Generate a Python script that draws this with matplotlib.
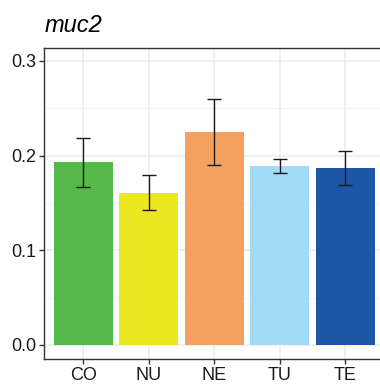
import matplotlib
matplotlib.use("Agg")
from matplotlib import pyplot as plt
from matplotlib.ticker import MultipleLocator

plt.rcParams["font.family"] = ["Liberation Sans", "DejaVu Sans"]

groups = ["CO", "NU", "NE", "TU", "TE"]
means = [0.193, 0.1605, 0.225, 0.189, 0.1866]
err_low = [0.167, 0.1426, 0.1898, 0.182, 0.1686]
err_high = [0.219, 0.1795, 0.2598, 0.1964, 0.2045]
colors = ["#54B948", "#EBE723", "#F5A05F", "#A2DBF6", "#1E56A6"]

fig = plt.figure(figsize=(3.8, 3.84), dpi=100)
ax = fig.add_axes([44 / 380, 25 / 384, 340.6 / 380, 311 / 384])

xs = list(range(1, len(groups) + 1))
yerr = [[m - lo for m, lo in zip(means, err_low)],
        [hi - m for m, hi in zip(means, err_high)]]

ax.bar(xs, means, width=0.9, color=colors, zorder=2)
ax.errorbar(xs, means, yerr=yerr, fmt="none", ecolor="#1a1a1a",
            elinewidth=1.0, capsize=4.7, capthick=1.0, zorder=3)

ax.set_xlim(0.4, 5.6)
ax.set_ylim(-0.0148, 0.3137)
ax.set_xticks(xs)
ax.set_xticklabels(groups)
ax.yaxis.set_minor_locator(MultipleLocator(0.05))
ax.set_yticks([0.0, 0.1, 0.2, 0.3])
ax.set_yticklabels(["0.0", "0.1", "0.2", "0.3"])

ax.grid(True, which="major", color="#EBEBEB", linewidth=1.1, zorder=0)
ax.grid(True, which="minor", axis="y", color="#F2F2F2", linewidth=0.6, zorder=0)
ax.set_axisbelow(True)

for s in ax.spines.values():
    s.set_color("#333333")
    s.set_linewidth(1.0)
ax.spines["right"].set_visible(False)

ax.tick_params(axis="both", which="major", length=3.5, width=1.0, color="#333333",
               labelsize=13, labelcolor="#1a1a1a", pad=2)
ax.tick_params(axis="y", which="minor", length=0)

fig.text(45 / 380, 1 - 32 / 384, "muc2", fontsize=17, style="italic",
         ha="left", va="baseline")

fig.savefig("out.png", dpi=100)
